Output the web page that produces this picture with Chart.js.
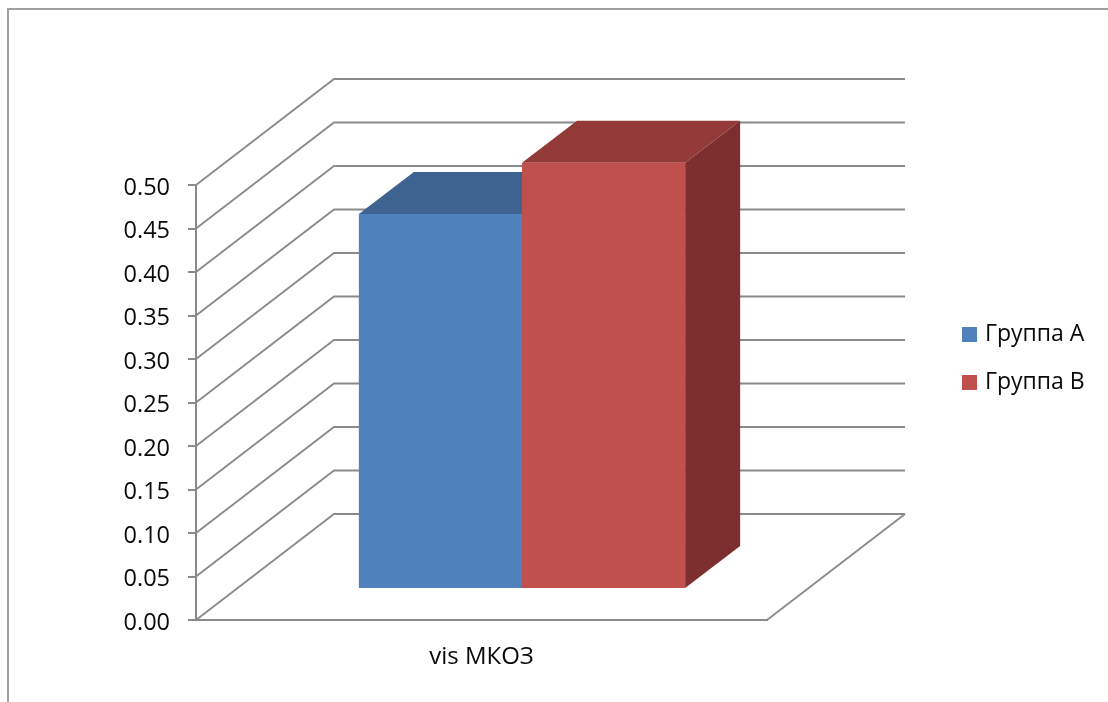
<!DOCTYPE html>
<html>
	<head>
		<meta charset="UTF-8">
		<title>vis МКОЗ</title>
		<script src="https://cdnjs.cloudflare.com/ajax/libs/Chart.js/4.4.1/chart.umd.min.js"></script>
		<style type="text/css">
			*{
				margin: 0;
				padding: 0;
			}
			body{
				background: white;
				width: 1108px;
				height: 702px;
				overflow: hidden;
				position: relative;
				font-family: "Open Sans", sans-serif;
			}
			#frame{
				position: absolute;
				left: 7px;
				top: 8px;
				right: 0;
				bottom: 0;
				border-left: 2px solid #a0a0a0;
				border-top: 2px solid #a0a0a0;
			}
			#showChart{
				position: absolute;
				left: 0;
				top: 0;
			}
			#legend{
				position: absolute;
				left: 962px;
				top: 317px;
				list-style: none;
				font-size: 23px;
				color: #0a0a0a;
			}
			#legend li{
				height: 48px;
				line-height: 31px;
				white-space: nowrap;
			}
			#legend i{
				display: inline-block;
				width: 15px;
				height: 15px;
				margin-right: 8px;
				vertical-align: -1px;
			}
		</style>
	</head>
	<body>
		<div id="frame"></div>
		<canvas id="showChart" width="1108" height="702"></canvas>
		<ul id="legend"></ul>

		<script type="text/javascript">
			var categories=["vis МКОЗ"];
			var groupA=[0.431];
			var groupB=[0.49];
			var yTickLabels=["0.00","0.05","0.10","0.15","0.20","0.25","0.30","0.35","0.40","0.45","0.50"];

			var gridColor="#8a8a8a";
			var textColor="#0a0a0a";
			var fontFamily="'Open Sans', sans-serif";

			// how far the floor and walls run back, and where the bars stand on that floor
			var wallDepth={x:138,y:106};
			var barOffset={x:40.5,y:31};
			var barDepth={x:55,y:42};

			function polygon(ctx,points,color){
				ctx.fillStyle=color;
				ctx.beginPath();
				points.forEach((p,i)=>{
					if(i==0){
						ctx.moveTo(p[0],p[1]);
					}else{
						ctx.lineTo(p[0],p[1]);
					}
				});
				ctx.closePath();
				ctx.fill();
			}

			var box3d={
				id:"box3d",
				beforeDatasetsDraw(chart){
					var ctx=chart.ctx;
					var area=chart.chartArea;
					var yScale=chart.scales.y;

					// floor and back wall lines, one per tick
					ctx.save();
					ctx.strokeStyle=gridColor;
					ctx.lineWidth=1.8;
					yScale.ticks.forEach(tick=>{
						var y=yScale.getPixelForValue(tick.value);
						ctx.beginPath();
						ctx.moveTo(area.left,y);
						ctx.lineTo(area.left+wallDepth.x,y-wallDepth.y);
						ctx.lineTo(area.right+wallDepth.x,y-wallDepth.y);
						ctx.stroke();
					});
					ctx.beginPath();
					ctx.moveTo(area.right+wallDepth.x,area.bottom-wallDepth.y);
					ctx.lineTo(area.right,area.bottom);
					ctx.stroke();
					ctx.restore();

					// everything from here to afterDatasetsDraw sits further back on the floor
					ctx.save();
					ctx.translate(barOffset.x,-barOffset.y);
					chart.data.datasets.forEach((dataset,i)=>{
						chart.getDatasetMeta(i).data.forEach(bar=>{
							var p=bar.getProps(["x","y","base","width"],true);
							var l=p.x-p.width/2;
							var r=p.x+p.width/2;
							polygon(ctx,[[r,p.y],[r+barDepth.x,p.y-barDepth.y],[r+barDepth.x,p.base-barDepth.y],[r,p.base]],dataset.sideColor);
							polygon(ctx,[[l,p.y],[l+barDepth.x,p.y-barDepth.y],[r+barDepth.x,p.y-barDepth.y],[r,p.y]],dataset.topColor);
						});
					});
				},
				afterDatasetsDraw(chart){
					chart.ctx.restore();
				}
			};

			var chart=new Chart(document.getElementById("showChart"),{
				type:"bar",
				data:{
					labels:categories,
					datasets:[
						{
							label:"Группа А",
							data:groupA,
							backgroundColor:"#4f81bd",
							topColor:"#3e6390",
							sideColor:"#375a85",
							clip:false
						},
						{
							label:"Группа В",
							data:groupB,
							backgroundColor:"#c0504d",
							topColor:"#933a39",
							sideColor:"#7c2f2e",
							clip:false
						}
					]
				},
				options:{
					responsive:false,
					animation:false,
					layout:{
						padding:{top:185,right:341}
					},
					plugins:{
						legend:{display:false},
						tooltip:{enabled:false}
					},
					datasets:{
						bar:{
							barPercentage:1,
							categoryPercentage:2/3.5
						}
					},
					scales:{
						x:{
							grid:{display:false},
							border:{color:gridColor,width:2},
							ticks:{
								color:textColor,
								font:{family:fontFamily,size:24},
								padding:15,
								maxRotation:0
							},
							afterFit(scale){
								scale.height=82;
							}
						},
						y:{
							min:0,
							max:0.5,
							grid:{
								drawOnChartArea:false,
								color:gridColor,
								lineWidth:2,
								tickLength:8
							},
							border:{color:gridColor,width:2},
							ticks:{
								stepSize:0.05,
								color:textColor,
								font:{family:fontFamily,size:23.5},
								padding:18,
								labelOffset:3,
								callback:(value,index)=>yTickLabels[index]
							},
							afterFit(scale){
								scale.width=196;
							}
						}
					}
				},
				plugins:[box3d]
			});

			// legend list beside the plot, built from the datasets
			var html="";
			chart.data.datasets.forEach(item=>{
				html+=`<li><i style="background:${item.backgroundColor}"></i>${item.label}</li>`;
			});
			document.getElementById("legend").innerHTML=html;
		</script>
	</body>
</html>
